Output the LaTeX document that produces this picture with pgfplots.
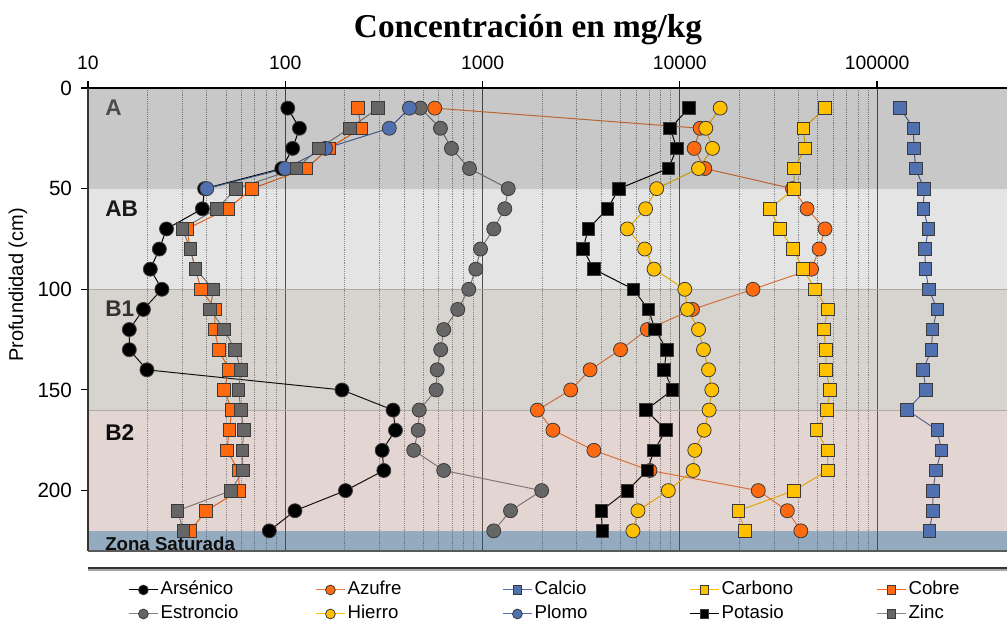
\documentclass[border=0pt]{standalone}
\usepackage{fontspec}
\setmainfont{Liberation Sans}
\newfontfamily\titlefont{Liberation Serif}
\usepackage{pgfplots}
\pgfplotsset{compat=1.18}
\usepackage{pgfplotstable}

\definecolor{cOr}{HTML}{FF6A10}
\definecolor{cOrL}{HTML}{EE8040}
\definecolor{cBl}{HTML}{5070B0}
\definecolor{cYe}{HTML}{FFC000}
\definecolor{cGr}{HTML}{666666}
\definecolor{cGrL}{HTML}{858585}
\definecolor{mkb}{HTML}{3A3A3A}
\definecolor{gridmaj}{HTML}{555555}
\definecolor{gridmin}{HTML}{9A9A9A}
\definecolor{bandB1}{HTML}{5A4A3A}
\definecolor{bandB2}{HTML}{7A3A2C}
\definecolor{bandSat}{HTML}{1F4E79}
\definecolor{sepl}{HTML}{B0AAA4}

% profundidad (cm) y concentraciones (mg/kg)
\pgfplotstableread{
d   As   S     Ca     C     Cu   Sr   Fe    Pb   K     Zn
10  103  573   131000 54500 233  484  16030 426  11140 296
20  118  12680 153000 42400 243  612  13550 337  8940  212
30  109  11830 154000 43200 166  696  14650 160  9660  148
40  96   13400 157000 38000 128  859  12450 100  8750  114
50  39   37300 173000 38000 67.8 1350 7640  40   4920  56.4
60  38   44200 172000 28600 51.2 1297 6710  nan  4300  45
70  25   54500 182000 32100 31.7 1140 5420  nan  3440  30.1
80  23   50900 175000 37500 33   977  6640  nan  3230  33
90  20.7 46600 176000 42200 35   925  7410  nan  3670  35.1
100 23.7 23500 183000 48600 37.5 852  10600 nan  5820  43.3
110 19.1 11600 202000 56200 44.2 749  10940 nan  6930  41.6
120 16.2 6850  191000 53600 43.8 636  12450 nan  7500  49
130 16.2 5010  189000 55100 46   614  13190 nan  8590  55.6
140 19.9 3510  171000 54900 51.8 589  13990 nan  8320  59.6
150 194  2800  177000 57900 49   582  14540 nan  9180  57.9
160 352  1897  142000 55700 53.6 478  14090 nan  6740  59.6
170 362  2275  202000 49200 52   472  13290 nan  8520  61.7
180 310  3670  212000 56200 50.6 448  11920 nan  7410  60.6
190 316  7060  199000 56200 57.9 636  11690 nan  6850  60.9
200 202  25000 192000 38000 58.5 1995 8750  nan  5420  53.2
210 112  35100 192000 19800 39.7 1387 6140  nan  4000  28.4
220 83   41100 184000 21400 33   1140 5790  nan  4050  30.5
}\datos

\pgfplotsset{
  circ/.style 2 args={color=#1, line width=0.75pt, mark=*, mark size=5.25pt,
    mark options={fill=#2, draw=mkb, line width=0.6pt, solid}},
  sq/.style 2 args={color=#1, line width=0.75pt, mark=square*, mark size=4.75pt,
    mark options={fill=#2, draw=mkb, line width=0.6pt, solid}},
}

\begin{document}
\begin{tikzpicture}
\begin{axis}[
  at={(0,0)}, anchor=south west,
  scale only axis, width=689.25pt, height=347.25pt,
  xmode=log, xmin=10, xmax=456000,
  ymin=0, ymax=230, y dir=reverse,
  axis x line*=top, axis y line*=left,
  xtick={10,100,1000,10000,100000},
  log ticks with fixed point,
  /pgf/number format/1000 sep={},
  /pgf/number format/assume math mode=true,
  ytick={0,50,100,150,200},
  tick align=outside,
  major tick length=5pt, minor tick length=0pt,
  xmajorgrids, xminorgrids,
  major grid style={solid, gridmaj, line width=0.6pt},
  minor grid style={densely dotted, gridmin, line width=0.5pt},
  tick style={black, line width=0.8pt},
  axis line style={line width=1pt},
  xticklabel style={font=\fontsize{14.5pt}{17pt}\selectfont, yshift=5.5pt},
  yticklabel style={font=\fontsize{15.5pt}{18pt}\selectfont, xshift=-3.5pt},
  legend columns=5,
  legend style={at={(0.0435,-0.062)}, anchor=north west, draw=none, fill=none,
    inner sep=0pt, font=\fontsize{14pt}{16pt}\selectfont,
    nodes={inner xsep=1.5pt, inner ysep=1pt, text height=10pt, text depth=3pt},
    /tikz/every even column/.append style={column sep=0pt},
    row sep=3pt},
  legend image code/.code={\draw[mark repeat=2, mark phase=2, #1,
    every mark/.append style={scale=0.7}]
    plot coordinates {(0pt,0pt) (11pt,0pt) (22pt,0pt)};},
]
\addplot[circ={black}{black}]  table[x=As, y=d] {\datos};
\addplot[circ={cOrL}{cOr}]     table[x=S,  y=d] {\datos};
\addplot[sq={cBl}{cBl}]        table[x=Ca, y=d] {\datos};
\addplot[sq={cYe}{cYe}]        table[x=C,  y=d] {\datos};
\addplot[sq={cOr}{cOr}]        table[x=Cu, y=d] {\datos};
\addplot[circ={cGrL}{cGr}]     table[x=Sr, y=d] {\datos};
\addplot[circ={cYe}{cYe}]      table[x=Fe, y=d] {\datos};
\addplot[circ={cBl}{cBl}]      table[x=Pb, y=d] {\datos};
\addplot[sq={black}{black}]    table[x=K,  y=d] {\datos};
\addplot[sq={cGrL}{cGr}]       table[x=Zn, y=d] {\datos};
\legend{\makebox[114.5pt][l]{Arsénico}, \makebox[114.5pt][l]{Azufre},
  \makebox[114.5pt][l]{Calcio}, \makebox[114.5pt][l]{Carbono},
  \makebox[114.5pt][l]{Cobre}, \makebox[114.5pt][l]{Estroncio},
  \makebox[114.5pt][l]{Hierro}, \makebox[114.5pt][l]{Plomo},
  \makebox[114.5pt][l]{Potasio}, \makebox[114.5pt][l]{Zinc}}

% horizontes del suelo
\fill[black, opacity=0.216] (axis cs:10,0) rectangle (axis cs:456000,50);
\fill[black, opacity=0.106] (axis cs:10,50) rectangle (axis cs:456000,100);
\fill[bandB1, opacity=0.245] (axis cs:10,100) rectangle (axis cs:456000,160);
\fill[bandB2, opacity=0.21] (axis cs:10,160) rectangle (axis cs:456000,220);
\fill[bandSat, opacity=0.48] (axis cs:10,220) rectangle (axis cs:456000,230);
\draw[sepl, line width=0.6pt] (axis cs:10,100) -- (axis cs:456000,100);
\draw[sepl, line width=0.6pt] (axis cs:10,160) -- (axis cs:456000,160);
\end{axis}

\draw[black, line width=1.2pt] (0,347.25pt) -- (689.25pt,347.25pt);
\draw[black!80, line width=1pt] (0,0) -- (0,347.25pt);
\draw[black!65, line width=0.8pt] (0,0) -- (689.25pt,0);
\draw[black!80, line width=1.6pt] (0,-12.5pt) -- (689.25pt,-12.5pt);
\draw[black!35, line width=1.4pt] (0,-14.5pt) -- (689.25pt,-14.5pt);

\begin{scope}[every node/.style={anchor=west, inner sep=0pt, font=\bfseries\fontsize{17pt}{20pt}\selectfont}]
\node[black!70] at (12.75pt,332.25pt) {A};
\node[black!90] at (12.75pt,256.5pt) {AB};
\node[black!80] at (12.75pt,181.5pt) {B1};
\node[black!95] at (12.75pt,88.5pt) {B2};
\node[black!95, font=\bfseries\fontsize{14pt}{16pt}\selectfont] at (12.75pt,5.5pt) {Zona Saturada};
\end{scope}

\node[rotate=90, font=\fontsize{15pt}{18pt}\selectfont] at (-52.5pt,199.5pt) {Profundidad (cm)};
\node[font=\titlefont\bfseries\fontsize{25pt}{28pt}\selectfont] at (330pt,391pt) {Concentración en mg/kg};

\pgfresetboundingbox
\path[use as bounding box] (-66pt,-54pt) rectangle (689.25pt,413.25pt);
\end{tikzpicture}
\end{document}
